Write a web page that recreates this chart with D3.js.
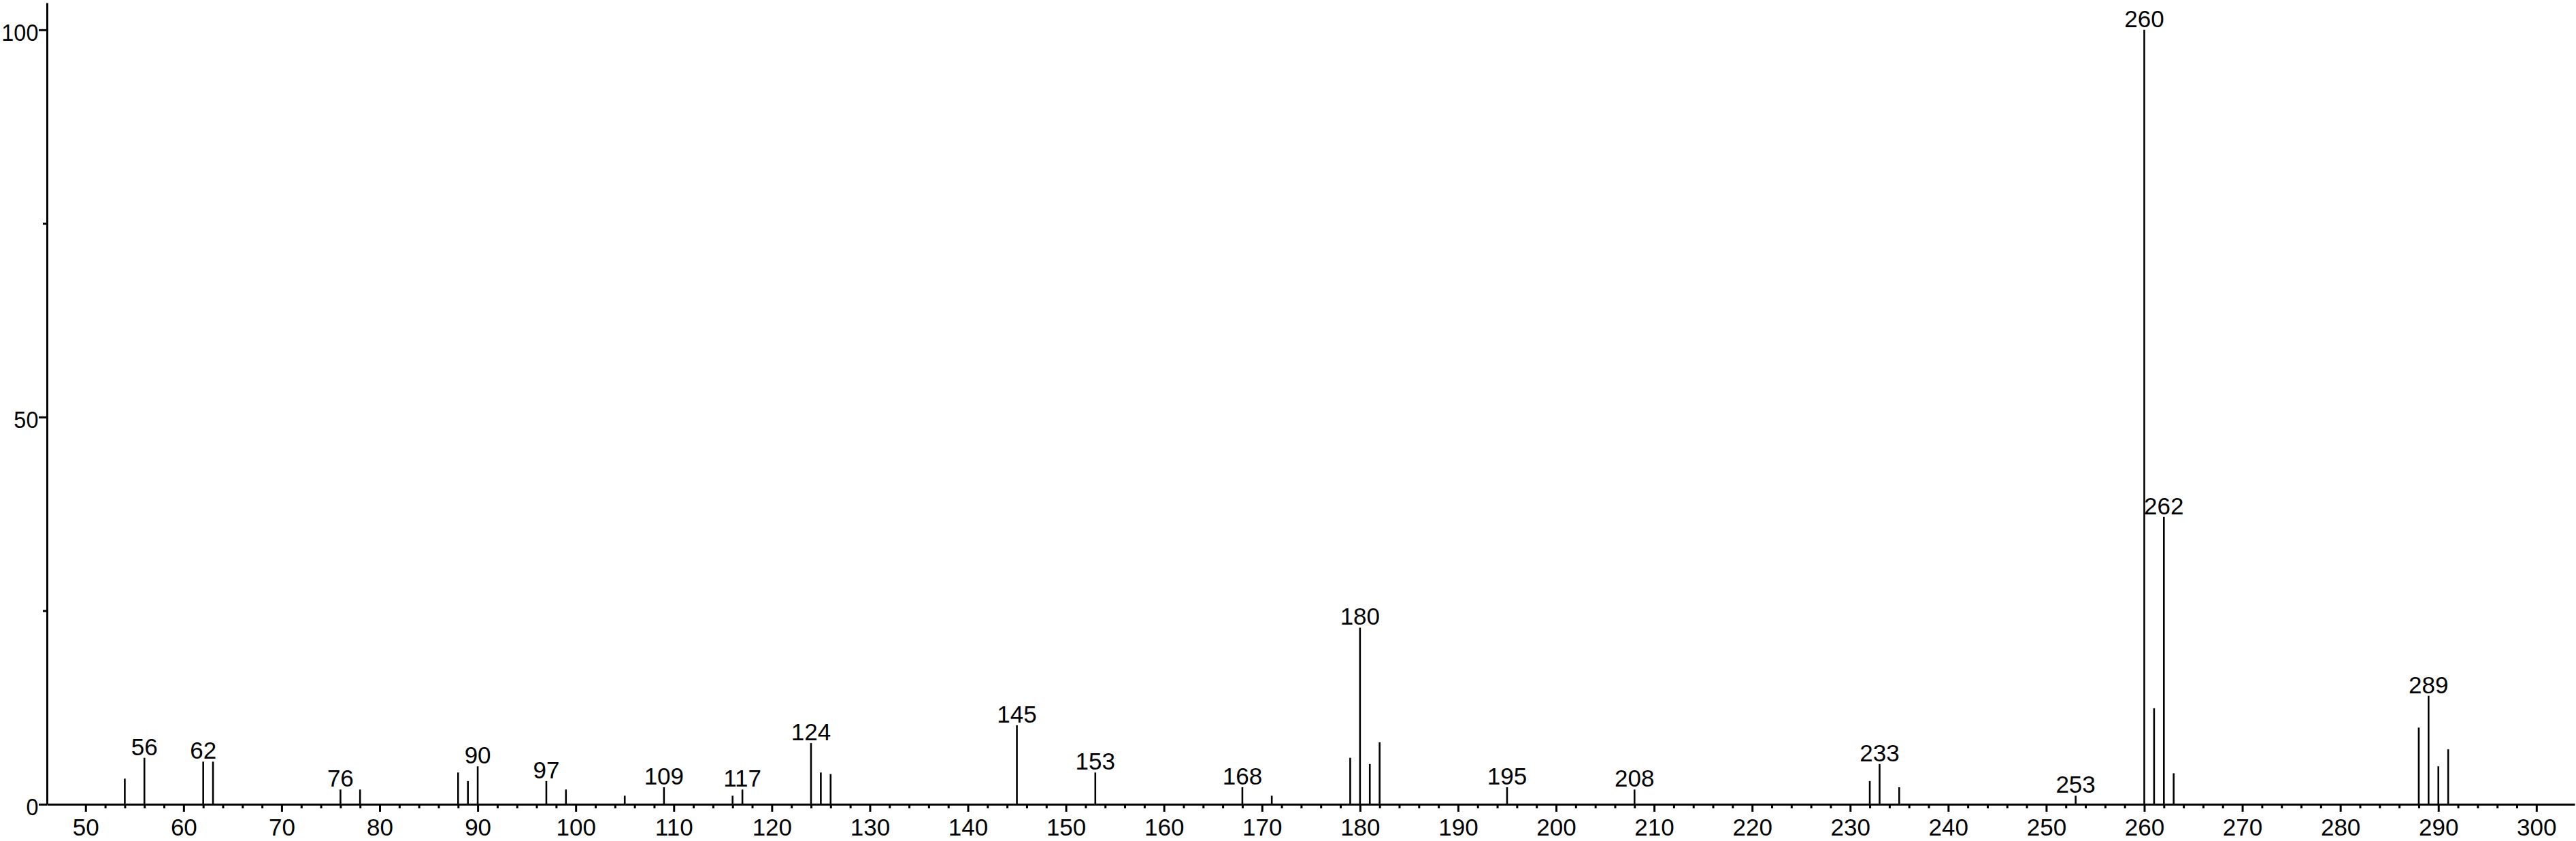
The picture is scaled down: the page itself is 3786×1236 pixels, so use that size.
<!DOCTYPE html>
<html>
<head>
<meta charset="utf-8">
<script src="https://cdn.jsdelivr.net/npm/d3@7"></script>
<style>
  html, body { margin: 0; padding: 0; background: #fff; }
  svg { display: block; }
  text { font-family: "Liberation Sans", Arial, sans-serif; fill: #000; }
</style>
</head>
<body>
<svg id="spectrum" width="3786" height="1236"></svg>
<script>
// m/z of each peak and its relative intensity (%)
const mzValues = [54, 56, 62, 63, 76, 78, 88, 89, 90, 97, 99, 105, 109, 116, 117,
                  124, 125, 126, 145, 153, 168, 171, 179, 180, 181, 182, 195, 208,
                  232, 233, 235, 253, 260, 261, 262, 263, 288, 289, 290, 291];
const intensities = [3.3, 6.0, 5.5, 5.5, 1.9, 1.9, 4.1, 3.0, 4.9, 3.0, 1.9, 1.1, 2.2, 1.1, 1.9,
                     7.9, 4.1, 3.9, 10.2, 4.1, 2.2, 1.1, 6.0, 22.8, 5.2, 8.0, 2.2, 1.9,
                     3.0, 5.2, 2.2, 1.1, 100, 12.4, 37.1, 4.0, 9.9, 14.0, 4.9, 7.1];
// peaks that carry a m/z label
const labelledPeaks = [56, 62, 76, 90, 97, 109, 117, 124, 145, 153, 168, 180, 195,
                       208, 233, 253, 260, 262, 289];
// axis ticks
const xMajorTicks = d3.range(50, 301, 10);
const xMinorTicks = d3.range(50, 301, 2).filter(v => v % 10 !== 0);
const yMajorTicks = [0, 50, 100];
const yMinorTicks = [25, 75];

const peaks = mzValues.map((mz, i) => ({mz: mz, value: intensities[i]}));

const svg = d3.select("#spectrum");
const fontSize = 35;

const x = d3.scaleLinear().domain([46.06, 303.9]).range([69, 3784]);
const y = d3.scaleLinear().domain([0, 103.5]).range([1182, 4]);

// peaks
svg.append("g")
  .selectAll("line")
  .data(peaks)
  .join("line")
  .attr("x1", d => x(d.mz))
  .attr("x2", d => x(d.mz))
  .attr("y1", y(0))
  .attr("y2", d => y(d.value))
  .attr("stroke", "#000")
  .attr("stroke-width", 2.6);

// peak labels
svg.append("g")
  .selectAll("text")
  .data(peaks.filter(d => labelledPeaks.includes(d.mz)))
  .join("text")
  .attr("x", d => x(d.mz))
  .attr("y", d => y(d.value) - 4)
  .attr("text-anchor", "middle")
  .attr("font-size", fontSize)
  .text(d => d.mz);

// x axis: minor ticks first, then major ticks with labels
svg.append("g")
  .attr("transform", "translate(0," + y(0) + ")")
  .call(d3.axisBottom(x).tickValues(xMinorTicks).tickSize(6).tickSizeOuter(0).tickFormat(""))
  .call(g => g.select(".domain").remove())
  .selectAll("line").attr("stroke-width", 3);

const xAxis = svg.append("g")
  .attr("transform", "translate(0," + y(0) + ")")
  .call(d3.axisBottom(x).tickValues(xMajorTicks).tickSize(11).tickSizeOuter(0).tickPadding(10));
xAxis.select(".domain").attr("stroke-width", 3);
xAxis.selectAll("line").attr("stroke-width", 3);
xAxis.selectAll("text").attr("font-size", fontSize).attr("font-family", null);

// y axis
svg.append("g")
  .attr("transform", "translate(" + x.range()[0] + ",0)")
  .call(d3.axisLeft(y).tickValues(yMinorTicks).tickSize(6).tickSizeOuter(0).tickFormat(""))
  .call(g => g.select(".domain").remove())
  .selectAll("line").attr("stroke-width", 3);

const yAxis = svg.append("g")
  .attr("transform", "translate(" + x.range()[0] + ",0)")
  .call(d3.axisLeft(y).tickValues(yMajorTicks).tickSize(12).tickSizeOuter(0).tickPadding(2));
yAxis.select(".domain").attr("stroke-width", 3);
yAxis.selectAll("line").attr("stroke-width", 3);
// the original labels are a little narrower than Liberation Sans
yAxis.selectAll("text")
  .attr("font-size", 36)
  .attr("font-family", null)
  .attr("dy", "0.44em")
  .attr("transform", "scale(0.9,1)");
</script>
</body>
</html>
